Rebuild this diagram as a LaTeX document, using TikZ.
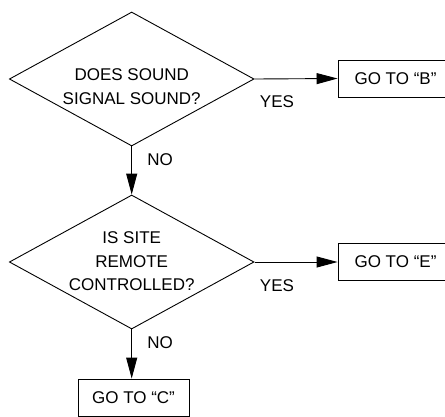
\documentclass[tikz,border=0pt]{standalone}
\usepackage{fontspec}
\setmainfont{Liberation Sans}
\usetikzlibrary{shapes.geometric,arrows.meta}
\begin{document}
\begin{tikzpicture}[x=1pt,y=-1pt,
  line width=0.9pt,
  every node/.style={font=\fontsize{17}{23.5}\selectfont, inner sep=0pt},
  dia/.style={draw, diamond, minimum width=244.7pt, minimum height=134pt},
  txt/.style={align=center},
  gobox/.style={draw, rectangle, minimum height=37pt},
  lbl/.style={},
  arr/.style={-{Triangle[length=21pt,width=11pt]}}]
\useasboundingbox (0,0) rectangle (445,416);
\clip (0,0) rectangle (445,416);
% decisions
\node[dia] (d1) at (131.7,79) {};
\node[txt] (t1) at (131.7,86.5) {DOES SOUND\\SIGNAL SOUND?};
\node[dia] (d2) at (131.7,262) {};
\node[txt] (t2) at (131.7,261.5) {IS SITE\\REMOTE\\CONTROLLED?};
% boxes
\node[gobox, minimum width=115pt] (bB) at (395.5,78.5) {GO TO “B”};
\node[gobox, minimum width=115pt] (bE) at (395.5,262) {GO TO “E”};
\node[gobox, minimum width=111pt] (bC) at (133.5,397.5) {GO TO “C”};
% connectors
\draw[arr] (d1.east) -- (bB.west);
\draw[arr] (d1.south) -- (d2.north);
\draw[arr] (d2.east) -- (bE.west);
\draw[arr] (d2.south) -- (d2.south |- bC.north);
% labels
\node[lbl] (y1) at (277,102) {YES};
\node[lbl] (n1) at (160,160) {NO};
\node[lbl] (y2) at (277,286) {YES};
\node[lbl] (n2) at (160,343) {NO};
\end{tikzpicture}
\end{document}
